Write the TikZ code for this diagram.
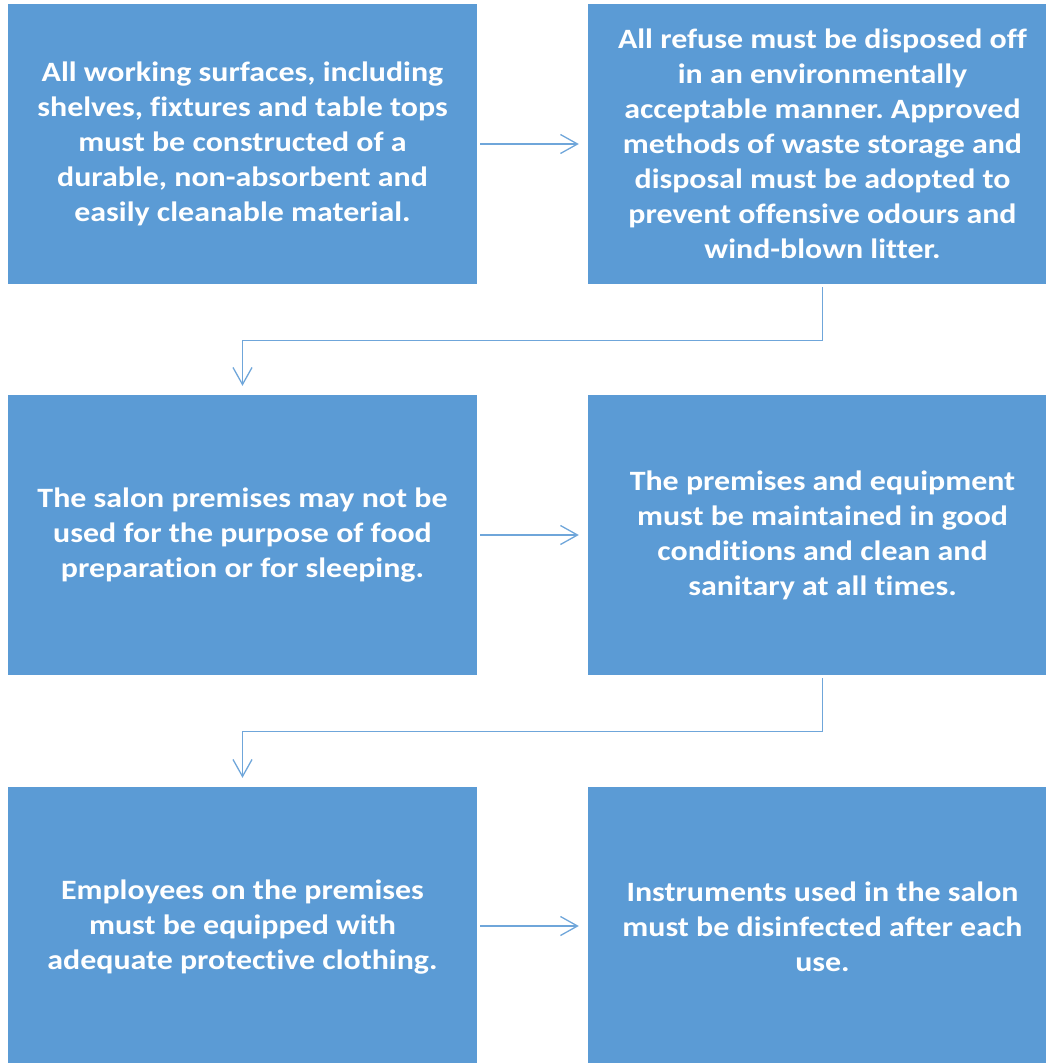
\documentclass[tikz,border=0pt]{standalone}
\usepackage{fontspec}
\setmainfont{Carlito}
\newfontfamily\boxfont[FakeStretch=1.14,Ligatures=NoCommon]{Carlito}
\usetikzlibrary{arrows.meta}
\definecolor{boxblue}{HTML}{5B9BD5}
\definecolor{lineblue}{HTML}{6FA6DA}
\frenchspacing
\tikzset{
  box/.style={rectangle, fill=boxblue, draw=none, minimum width=469pt, minimum height=280pt,
    inner sep=0pt, text=white, align=center,
    font=\boxfont\fontsize{28}{35}\selectfont\bfseries},
  conn/.style={draw=lineblue, line width=1.3pt, -{Straight Barb[length=17pt,width=19pt,line width=1.3pt]}}
}
\begin{document}
\begin{tikzpicture}[x=1pt,y=-1pt]
\useasboundingbox (0,0) rectangle (1046,1063);
\node[box] (b1) at (242.5,144) {All working surfaces, including\\shelves, fixtures and table tops\\must be constructed of a\\durable, non-absorbent and\\easily cleanable material.};
\node[box] (b2) at (822.5,144) {All refuse must be disposed off\\in an environmentally\\acceptable manner. Approved\\methods of waste storage and\\disposal must be adopted to\\prevent offensive odours and\\wind-blown litter.};
\node[box] (b3) at (242.5,535) {The salon premises may not be\\used for the purpose of food\\preparation or for sleeping.};
\node[box] (b4) at (822.5,535) {The premises and equipment\\must be maintained in good\\conditions and clean and\\sanitary at all times.};
\node[box] (b5) at (242.5,927) {Employees on the premises\\must be equipped with\\adequate protective clothing.};
\node[box] (b6) at (822.5,927) {Instruments used in the salon\\must be disinfected after each\\use.};
\draw[conn] ([xshift=3pt]b1.east) -- ([xshift=-9pt]b2.west);
\draw[conn] ([xshift=3pt]b3.east) -- ([xshift=-9pt]b4.west);
\draw[conn] ([xshift=3pt,yshift=1pt]b5.east) -- ([xshift=-9pt,yshift=1pt]b6.west);
\draw[conn] ([yshift=-3pt]b2.south) |- ++(0,53) -| ([yshift=9pt]b3.north);
\draw[conn] ([yshift=-3pt]b4.south) |- ++(0,53) -| ([yshift=9pt]b5.north);
\end{tikzpicture}
\end{document}
